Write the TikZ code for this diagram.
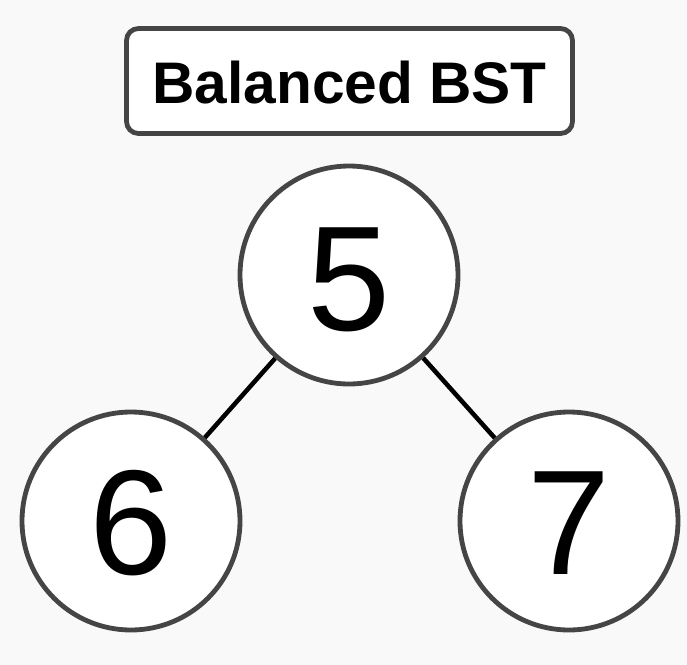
\documentclass[tikz,border=0pt]{standalone}
\usepackage{fontspec}
\setmainfont{Liberation Sans}
\begin{document}
\begin{tikzpicture}[x=0.75pt,y=-0.75pt,
  bordercol/.style={draw=black!73},
  treenode/.style={circle,bordercol,line width=3.6pt,fill=white,minimum size=218*0.75pt,inner sep=0pt},
  digit/.style={inner sep=0pt,font=\fontsize{112}{120}\selectfont},
  titlebox/.style={rounded corners=9pt,bordercol,line width=3.6pt,fill=white,minimum width=446*0.75pt,minimum height=105*0.75pt,inner sep=0pt},
  titletext/.style={inner sep=0pt,font=\bfseries\fontsize{44}{50}\selectfont},
  edge/.style={draw=black,line width=3.4pt}]
\fill[black!2.5] (0,0) rectangle (687,665);
\useasboundingbox (0,0) rectangle (687,665);
\node[titlebox] (title) at (349.5,81) {};
\node[titletext] (titlelabel) at (349.5,83) {Balanced BST};
\node[treenode] (n5) at (349,275) {};
\node[treenode] (n6) at (131,521) {};
\node[treenode] (n7) at (569,521) {};
\draw[edge] (n5) -- (n6);
\draw[edge] (n5) -- (n7);
\node[digit] (d5) at (349,280) {5};
\node[digit] (d6) at (131,523) {6};
\node[digit] (d7) at (569,523) {7};
\end{tikzpicture}
\end{document}
